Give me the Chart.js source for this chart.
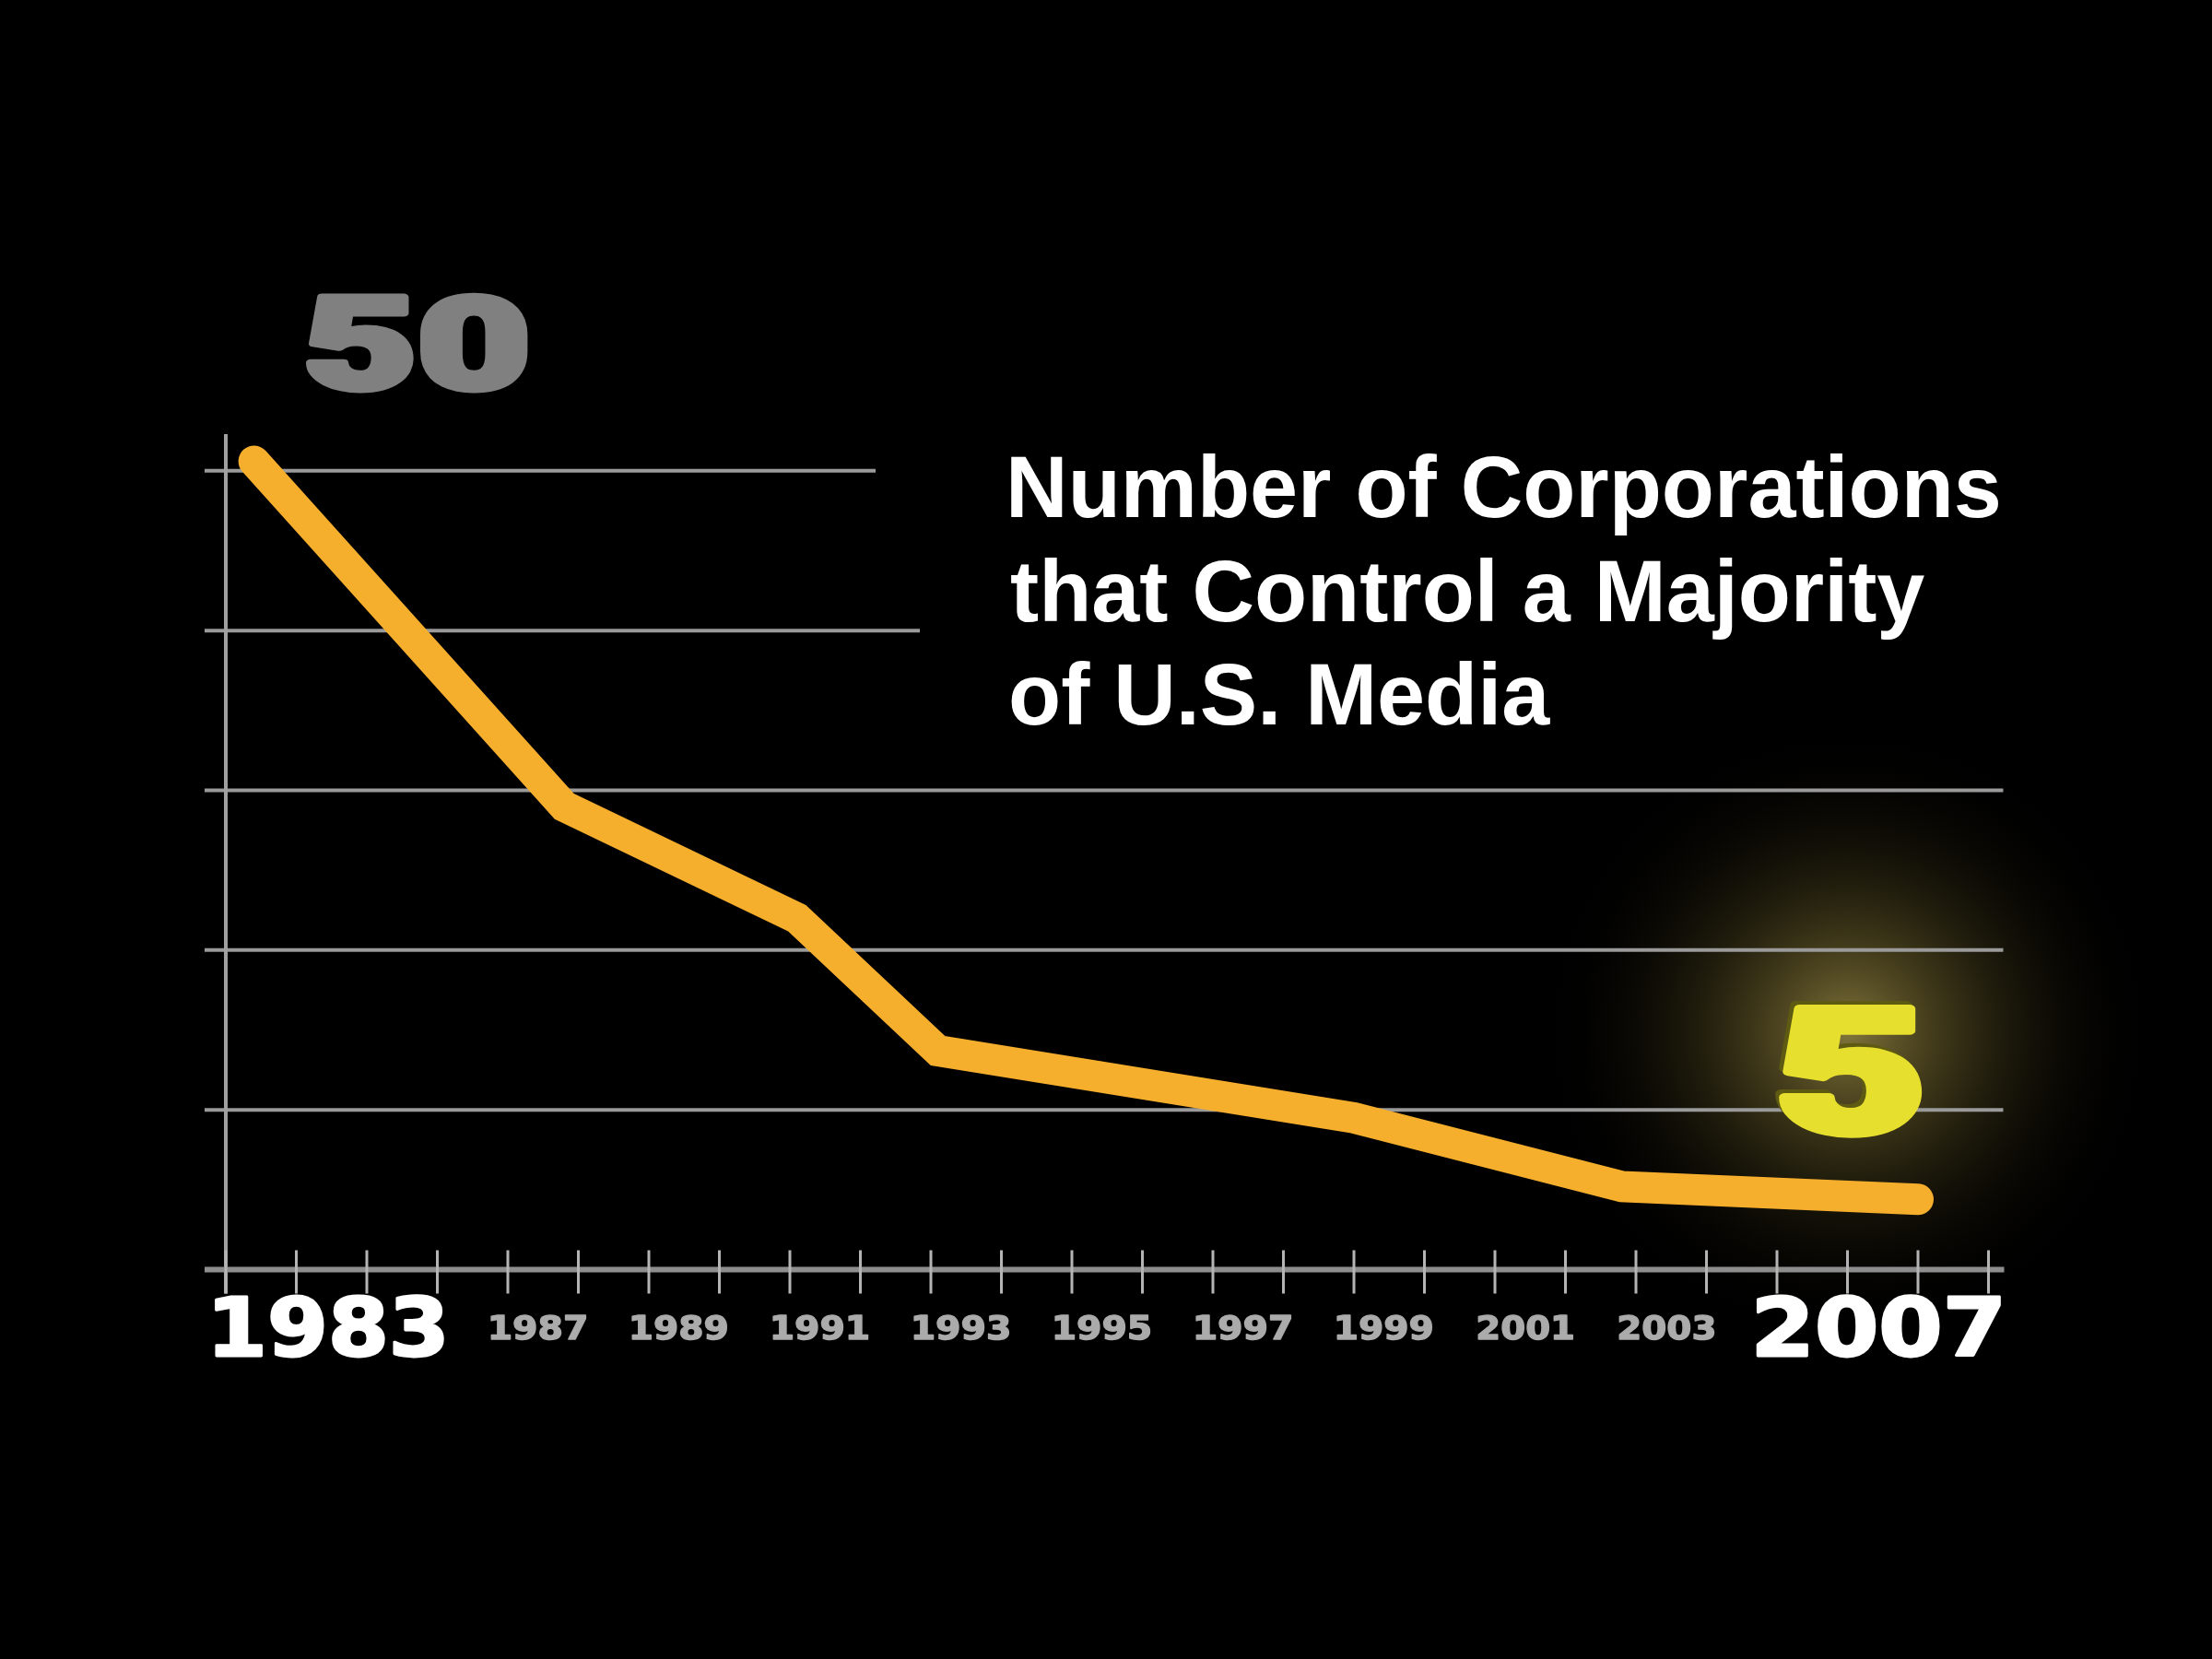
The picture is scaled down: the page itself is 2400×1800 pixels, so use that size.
<!DOCTYPE html>
<html>
<head>
<meta charset="utf-8">
<title>Number of Corporations that Control a Majority of U.S. Media</title>
<script src="https://cdn.jsdelivr.net/npm/chart.js@4.4.0/dist/chart.umd.min.js"></script>
<style>
  html, body { margin: 0; padding: 0; background: #000; }
  #wrap { width: 2400px; height: 1800px; }
</style>
</head>
<body>
<div id="wrap"><canvas id="mediaChart" width="2400" height="1800"></canvas></div>
<script>
// values (x = year position, y = number of corporations)
const years = [1982.9, 1987.3, 1990.6, 1992.6, 1998.5, 2002.3, 2006.5];
const corporations = [50.6, 29, 22, 13.7, 9.5, 5.2, 4.4];

const yearLabels = [1987, 1989, 1991, 1993, 1995, 1997, 1999, 2001, 2003];
const firstYear = '1983';
const lastYear = '2007';
const startValue = '50';
const endValue = '5';
const gridValues = [10, 20, 30, 40, 50];
const titleLines = ['Number of Corporations', 'that Control a Majority', 'of U.S. Media'];

const xMin = 1982.5, xMax = 2007.5;
const yMin = 0, yMax = 52.3;

// draw text so its ink fills a given box; optional stroke makes it heavier
function fitBox(ctx, text, font, color, left, right, top, bottom, weight) {
  const pad = (weight || 0) / 2;
  left += pad; right -= pad; top += pad; bottom -= pad;
  ctx.save();
  ctx.font = font;
  ctx.textAlign = 'left';
  ctx.textBaseline = 'alphabetic';
  const m = ctx.measureText(text);
  const w = m.actualBoundingBoxLeft + m.actualBoundingBoxRight;
  const h = m.actualBoundingBoxAscent + m.actualBoundingBoxDescent;
  const sx = (right - left) / w, sy = (bottom - top) / h;
  ctx.translate(left + m.actualBoundingBoxLeft * sx, top + m.actualBoundingBoxAscent * sy);
  ctx.scale(sx, sy);
  ctx.fillStyle = color;
  ctx.fillText(text, 0, 0);
  if (weight) {
    ctx.strokeStyle = color;
    ctx.lineJoin = 'round';
    ctx.lineWidth = weight / ((sx + sy) / 2);
    ctx.strokeText(text, 0, 0);
  }
  ctx.restore();
}

const decor = {
  id: 'decor',
  beforeDatasetsDraw(chart) {
    const { ctx, scales: { x, y } } = chart;
    const left = x.getPixelForValue(xMin), right = x.getPixelForValue(xMax);
    const base = y.getPixelForValue(0), top = y.getPixelForValue(yMax);

    // glow behind the end value
    ctx.save();
    const g = ctx.createRadialGradient(2005, 1120, 0, 2005, 1120, 330);
    g.addColorStop(0, 'rgba(135,122,62,0.95)');
    g.addColorStop(0.3, 'rgba(90,80,36,0.7)');
    g.addColorStop(0.65, 'rgba(38,33,14,0.4)');
    g.addColorStop(1, 'rgba(0,0,0,0)');
    ctx.fillStyle = g;
    ctx.fillRect(1670, 780, 680, 680);
    ctx.restore();

    // horizontal grid lines (upper two are cut short by the title)
    const gridEnds = { 50: 950, 40: 998 };
    ctx.save();
    ctx.strokeStyle = '#9a9a9a';
    ctx.lineWidth = 4;
    gridValues.forEach(v => {
      const py = y.getPixelForValue(v);
      ctx.beginPath();
      ctx.moveTo(left - 23, py);
      ctx.lineTo(gridEnds[v] || right + 16, py);
      ctx.stroke();
    });

    // y axis line
    ctx.strokeStyle = '#a0a0a0';
    ctx.beginPath();
    ctx.moveTo(left, top);
    ctx.lineTo(left, base + 26);
    ctx.stroke();

    // x axis line
    ctx.strokeStyle = '#8e8e8e';
    ctx.lineWidth = 6;
    ctx.beginPath();
    ctx.moveTo(left - 23, base);
    ctx.lineTo(right + 17, base);
    ctx.stroke();

    // year tick marks crossing the axis
    ctx.strokeStyle = '#b4b4b4';
    ctx.lineWidth = 3;
    for (let t = xMin; t <= xMax + 0.01; t += 1) {
      const px = x.getPixelForValue(t);
      ctx.beginPath();
      ctx.moveTo(px, base - 21);
      ctx.lineTo(px, base + 26);
      ctx.stroke();
    }
    ctx.restore();
  },
  afterDatasetsDraw(chart) {
    const { ctx, scales: { x } } = chart;
    const digitFont = 'bold 100px "DejaVu Sans", sans-serif';
    const heavyFont = '900 200px Roboto, "DejaVu Sans", sans-serif';

    // small year labels, centred in their year slot
    yearLabels.forEach(yr => {
      const cx = x.getPixelForValue(yr) - 5;
      fitBox(ctx, String(yr), digitFont, '#ababab', cx - 52, cx + 52, 1425, 1454, 1.5);
    });
    fitBox(ctx, firstYear, digitFont, '#ffffff', 233, 482, 1404, 1473, 3);
    fitBox(ctx, lastYear, digitFont, '#ffffff', 1905, 2171, 1404, 1473, 3);

    // start and end values
    fitBox(ctx, startValue, heavyFont, '#808080', 332, 572, 316, 428, 9);
    fitBox(ctx, endValue, heavyFont, '#5e5a12', 1926, 2081, 1084, 1232, 11);
    fitBox(ctx, endValue, heavyFont, '#e6df2e', 1930, 2085, 1088, 1236, 11);

    // title
    ctx.save();
    ctx.font = 'bold 95px "Liberation Sans", Arial, sans-serif';
    ctx.fillStyle = '#ffffff';
    ctx.textBaseline = 'alphabetic';
    const m = ctx.measureText(titleLines[0]);
    const sx = 1071 / (m.actualBoundingBoxLeft + m.actualBoundingBoxRight);
    const baselines = [561, 674, 786];
    titleLines.forEach((line, i) => {
      const lm = ctx.measureText(line);
      ctx.save();
      ctx.translate(1097 + lm.actualBoundingBoxLeft * sx, baselines[i]);
      ctx.scale(sx, 1);
      ctx.fillText(line, 0, 0);
      ctx.restore();
    });
    ctx.restore();
  }
};

const ctx = document.getElementById('mediaChart').getContext('2d');
new Chart(ctx, {
  type: 'line',
  data: {
    datasets: [{
      label: 'Corporations',
      data: years.map((yr, i) => ({ x: yr, y: corporations[i] })),
      borderColor: '#f6ae2d',
      borderWidth: 34,
      borderCapStyle: 'round',
      borderJoinStyle: 'miter',
      pointRadius: 0,
      tension: 0,
      fill: false,
      clip: false
    }]
  },
  options: {
    responsive: false,
    devicePixelRatio: 1,
    animation: false,
    layout: {
      padding: { left: 245, right: 242.5, top: 471, bottom: 422.5 }
    },
    scales: {
      x: { type: 'linear', min: xMin, max: xMax, display: false },
      y: { min: yMin, max: yMax, display: false }
    },
    plugins: {
      legend: { display: false },
      tooltip: { enabled: false }
    }
  },
  plugins: [decor]
});
</script>
</body>
</html>
